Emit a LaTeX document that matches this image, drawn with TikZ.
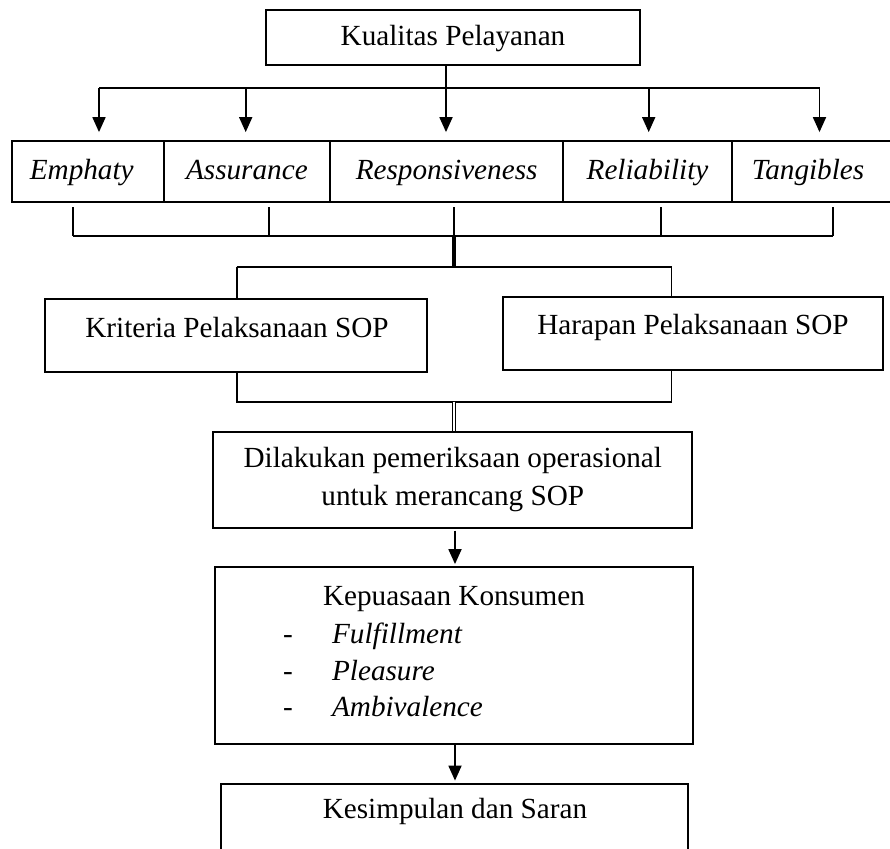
\documentclass[tikz,border=0pt]{standalone}
\usepackage{fontspec}
\setmainfont{Liberation Serif}
\usetikzlibrary{arrows.meta}
\begin{document}
\begin{tikzpicture}[x=0.5pt,y=-0.5pt,
  every node/.style={font=\fontsize{14.6}{19}\selectfont},
  box/.style={draw, line width=1pt, inner sep=0pt, align=center},
  cell/.style={box, minimum height=30.75pt, text height=11pt, text depth=3pt},
  txt/.style={inner sep=0pt},
  ln/.style={line width=0.9pt},
  thickln/.style={line width=2pt},
  dbl/.style={double, line width=0.7pt, double distance=0.9pt},
  arr/.style={line width=0.9pt, -{Triangle[length=7.5pt,width=6.5pt]}}
]
\clip (0,0) rectangle (890,848);

% top box
\node[box, minimum width=187pt, minimum height=27.5pt, text height=11pt, text depth=3pt] (top) at (453,37.5) {Kualitas Pelayanan};

% row of dimensions
\node[cell, minimum width=75.75pt] (c1) at (87.75,171.25) {\itshape Emphaty\hspace*{6pt}};
\node[cell, minimum width=83.4pt] (c2) at (246.9,171.25) {\itshape Assurance};
\node[cell, minimum width=116.35pt] (c3) at (446.65,171.25) {\itshape Responsiveness};
\node[cell, minimum width=84.5pt] (c4) at (647.5,171.25) {\itshape Reliability};
\node[cell, minimum width=80pt] (c5) at (812,171.25) {\itshape Tangibles\hspace*{4pt}};

% arrows from top box
\coordinate (a1) at (99,88);
\coordinate (a2) at (245.7,88);
\coordinate (a3) at (446,88);
\coordinate (a4) at (648.7,88);
\coordinate (a5) at (819.5,88);
\draw[ln] (top.south -| a3) -- (a3);
\draw[ln] (a1) -- (a5);
\draw[arr, shorten >=3.7pt] (a1) -- (a1 |- c1.north);
\draw[arr, shorten >=3.7pt] (a2) -- (a2 |- c2.north);
\draw[arr, shorten >=3.7pt] (a3) -- (a3 |- c3.north);
\draw[arr, shorten >=3.7pt] (a4) -- (a4 |- c4.north);
\draw[arr, shorten >=3.7pt] (a5) -- (a5 |- c5.north);

% bracket under the row
\coordinate (u1) at (73.3,235.7);
\coordinate (u2) at (269,235.7);
\coordinate (u3) at (454,235.7);
\coordinate (u4) at (661,235.7);
\coordinate (u5) at (833.3,235.7);
\draw[ln] ([yshift=-2pt]c1.south -| u1) -- (u1);
\draw[ln] ([yshift=-2pt]c2.south -| u2) -- (u2);
\draw[ln] ([yshift=-2pt]c3.south -| u3) -- (u3);
\draw[ln] ([yshift=-2pt]c4.south -| u4) -- (u4);
\draw[ln] ([yshift=-2pt]c5.south -| u5) -- (u5);
\draw[ln] (u1) -- (u5);

% split to the two boxes
\node[box, minimum width=190.85pt, minimum height=36.5pt] (krit) at (235.85,335.2) {};
\node[txt] (kritt) at (237,328) {Kriteria Pelaksanaan SOP};
\node[box, minimum width=190pt, minimum height=36.5pt] (har) at (693,333.5) {};
\node[txt] (hart) at (693,327) {Harapan Pelaksanaan SOP};

\coordinate (m) at (454,267);
\coordinate (kl) at (236.7,267);
\coordinate (kr) at (671.5,267);
\draw[thickln] (u3) -- (m);
\draw[ln] (kl) -- (kr);
\draw[ln] (kl) -- (kl |- krit.north);
\draw[ln] (kr) -- (kr |- har.north);

% merge
\node[box, minimum width=239.5pt, minimum height=48pt] (dil) at (452.8,479.7) {Dilakukan pemeriksaan operasional\\untuk merancang SOP};
\coordinate (bl2) at (236.7,401.7);
\coordinate (br2) at (671.5,401.7);
\coordinate (j2) at (454,401.7);
\draw[ln] (krit.south -| bl2) -- (bl2) -- (br2) -- (har.south -| br2);
\draw[dbl] (j2) -- (j2 |- dil.north);

% Kepuasaan
\node[box, minimum width=239pt, minimum height=88.8pt] (kep) at (454,655.5) {};
\node[txt, anchor=base] (kept) at (454,605) {Kepuasaan Konsumen};
\node[txt, anchor=base] (d1) at (288,643) {-};
\node[txt, anchor=base] (d2) at (288,680) {-};
\node[txt, anchor=base] (d3) at (288,716.5) {-};
\node[txt, anchor=base west] (i1) at (331.7,643) {\itshape Fulfillment};
\node[txt, anchor=base west] (i2) at (331.7,680) {\itshape Pleasure};
\node[txt, anchor=base west] (i3) at (331.7,716.5) {\itshape Ambivalence};

\coordinate (ax) at (455,0);
\draw[arr, shorten <=1pt, shorten >=0.8pt] (dil.south -| ax) -- (kep.north -| ax);

% Kesimpulan
\node[box, minimum width=233.65pt, minimum height=38pt] (kes) at (454.65,822) {};
\node[txt] (kest) at (455,811.7) {Kesimpulan dan Saran};
\draw[arr, shorten >=1.2pt] (kep.south -| ax) -- (kes.north -| ax);
\end{tikzpicture}
\end{document}
